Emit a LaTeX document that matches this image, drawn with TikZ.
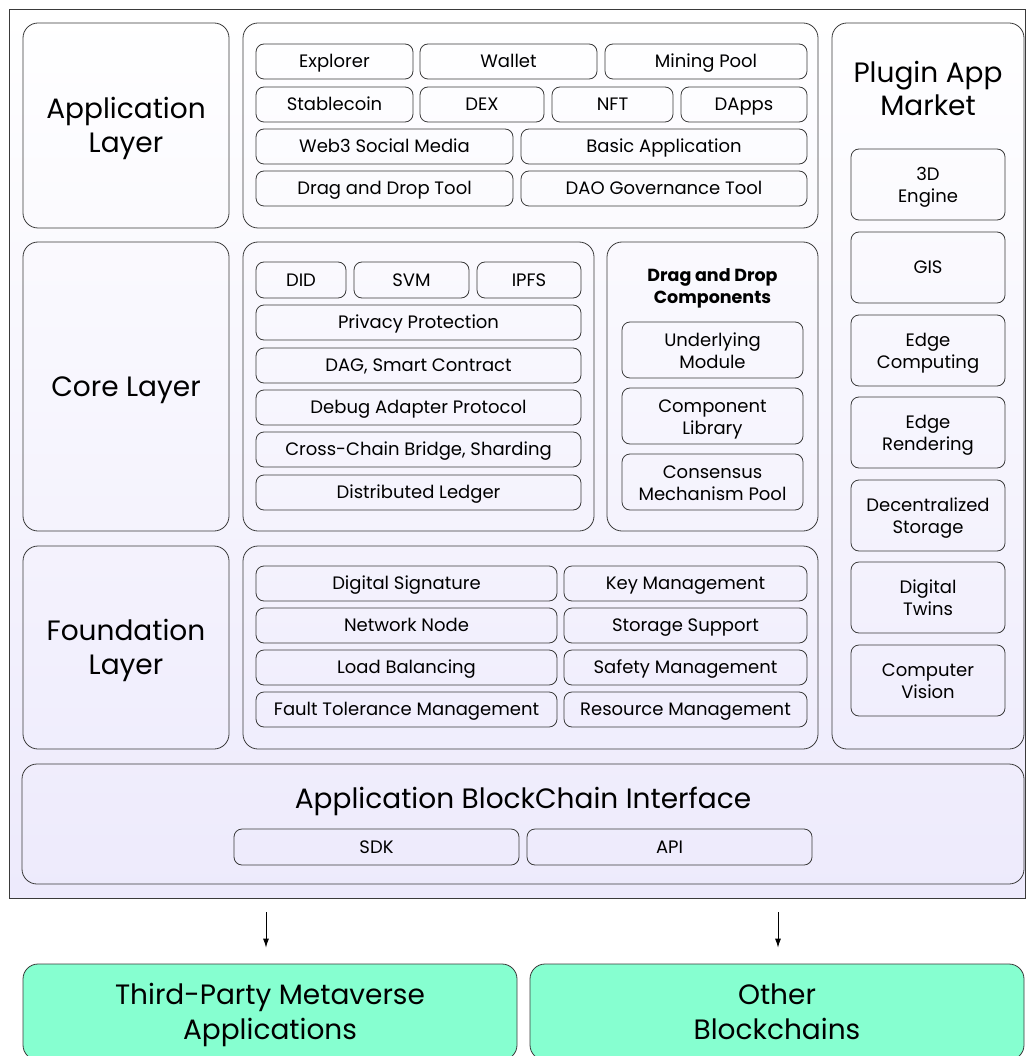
\documentclass[tikz,border=0pt]{standalone}
\usepackage{fontspec}
\setmainfont{Poppins}
\usetikzlibrary{arrows.meta, positioning}
\definecolor{lavender}{RGB}{237,234,252}
\definecolor{edgegray}{RGB}{58,58,58}
\definecolor{mint}{RGB}{134,255,208}

\begin{document}
\begin{tikzpicture} [%
    x = 1pt,
    y = -1pt,
    line width = 0.8pt,
    >= { Latex[length=9pt, width=6pt] },
    oneline/.style = {text height = #1, text depth = 2.4pt},
    oneline/.default = 15pt,
    twoline/.style = {text height = #1, text depth = 2.4pt},
    twoline/.default = 39pt,
    bigtext/.style = {%
      align = center,
      inner sep = 0pt,
      font = \fontsize{28}{34}\selectfont },
    layer/.style = {%
      bigtext,
      draw = edgegray,
      rounded corners = 15pt },
    panel/.style = {%
      draw = edgegray,
      rounded corners = 15pt,
      inner sep = 0pt },
    cell/.style = {%
      draw = edgegray,
      rounded corners = 8pt,
      align = center,
      inner sep = 0pt,
      minimum height = 35pt,
      oneline,
      font = \fontsize{18}{22}\selectfont },
    tile/.style = {cell, twoline, minimum width = 154pt, minimum height = 71pt},
    target/.style = {%
      bigtext,
      twoline = 57pt,
      draw = edgegray,
      fill = mint,
      rounded corners = 15pt,
      minimum width = 494pt,
      minimum height = 96pt,
      font = \fontsize{28}{35}\selectfont }
  ]

  \useasboundingbox (0,0) rectangle (1026,1056);

  % outer frame
  \node[draw=edgegray, top color=white, bottom color=lavender, inner sep=0pt,
        minimum width=1016pt, minimum height=889pt] (frame) at (517,453.5) {};

  % layers on the left
  \node[layer, twoline=56pt, minimum width=206pt, minimum height=205pt] (appL) at (126,125.5) {Application\\Layer};
  \node[layer, oneline=22pt, minimum width=206pt, minimum height=289pt] (coreL) at (126,386.5) {Core Layer};
  \node[layer, twoline=56pt, minimum width=206pt, minimum height=203pt] (foundL) at (126,647.5) {Foundation\\Layer};

  % application layer
  \node[panel, minimum width=575pt, minimum height=205pt] (appP) at (530.5,125.5) {};
  \node[cell, minimum width=157pt] (explorer) at (334.5,61.5) {Explorer};
  \node[cell, minimum width=177pt] (wallet) at (508.5,61.5) {Wallet};
  \node[cell, minimum width=202pt] (pool) at (706,61.5) {Mining Pool};
  \node[cell, minimum width=157pt] (stable) at (334.5,104.5) {Stablecoin};
  \node[cell, minimum width=124pt] (dex) at (482,104.5) {DEX};
  \node[cell, minimum width=121pt] (nft) at (612.5,104.5) {NFT};
  \node[cell, minimum width=126pt] (dapps) at (744,104.5) {DApps};
  \node[cell, minimum width=257pt] (social) at (384.5,146.5) {Web3 Social Media};
  \node[cell, minimum width=286pt] (basic) at (664,146.5) {Basic Application};
  \node[cell, minimum width=257pt] (dndtool) at (384.5,188.5) {Drag and Drop Tool};
  \node[cell, minimum width=286pt] (dao) at (664,188.5) {DAO Governance Tool};

  % core layer
  \node[panel, minimum width=351pt, minimum height=289pt] (coreP) at (418.5,386.5) {};
  \node[cell, minimum width=90pt, minimum height=36pt] (did) at (301,280) {DID};
  \node[cell, minimum width=115pt, minimum height=36pt] (svm) at (411.5,280) {SVM};
  \node[cell, minimum width=104pt, minimum height=36pt] (ipfs) at (529,280) {IPFS};
  \node[cell, minimum width=325pt] (privacy) at (418.5,322.5) {Privacy Protection};
  \node[cell, minimum width=325pt] (dag) at (418.5,365.5) {DAG, Smart Contract};
  \node[cell, minimum width=325pt] (debug) at (418.5,407.5) {Debug Adapter Protocol};
  \node[cell, minimum width=325pt] (bridge) at (418.5,449.5) {Cross-Chain Bridge, Sharding};
  \node[cell, minimum width=325pt] (ledger) at (418.5,492.5) {Distributed Ledger};

  \node[panel, minimum width=211pt, minimum height=289pt] (dndP) at (712.5,386.5) {};
  \node[cell, text height={}, text depth={}, draw=none, font=\fontsize{17.5}{22}\selectfont\bfseries] (dndT) at (712.5,288)
    {Drag and Drop\\Components};
  \node[cell, twoline, minimum width=181pt, minimum height=56pt] (module) at (712.5,350) {Underlying\\Module};
  \node[cell, twoline, minimum width=181pt, minimum height=56pt] (library) at (712.5,416) {Component\\Library};
  \node[cell, twoline, minimum width=181pt, minimum height=56pt] (consensus) at (712.5,482) {Consensus\\Mechanism Pool};

  % foundation layer
  \node[panel, minimum width=575pt, minimum height=203pt] (foundP) at (530.5,647.5) {};
  \node[cell, minimum width=301pt] (signature) at (406.5,583.5) {Digital Signature};
  \node[cell, minimum width=243pt] (keys) at (685.5,583.5) {Key Management};
  \node[cell, minimum width=301pt] (netnode) at (406.5,625.5) {Network Node};
  \node[cell, minimum width=243pt] (storage) at (685.5,625.5) {Storage Support};
  \node[cell, minimum width=301pt] (balance) at (406.5,667.5) {Load Balancing};
  \node[cell, minimum width=243pt] (safety) at (685.5,667.5) {Safety Management};
  \node[cell, minimum width=301pt] (fault) at (406.5,709.5) {Fault Tolerance Management};
  \node[cell, minimum width=243pt] (resource) at (685.5,709.5) {Resource Management};

  % plugin market
  \node[panel, minimum width=192pt, minimum height=726pt] (market) at (928,386) {};
  \node[bigtext, font=\fontsize{28}{33}\selectfont] (marketT) at (928,88) {Plugin App\\Market};
  \node[tile] (engine) at (928,184.5) {3D\\Engine};
  \node[tile, oneline] (gis) at (928,267.5) {GIS};
  \node[tile] (edgecomp) at (928,350.5) {Edge\\Computing};
  \node[tile] (edgerend) at (928,432.5) {Edge\\Rendering};
  \node[tile] (decstore) at (928,515.5) {Decentralized\\Storage};
  \node[tile] (twins) at (928,597.5) {Digital\\Twins};
  \node[tile] (vision) at (928,680.5) {Computer\\Vision};

  % interface
  \node[panel, minimum width=1002pt, minimum height=120pt] (abi) at (523,824) {};
  \node[bigtext, oneline=22pt] (abiT) at (523,799) {Application BlockChain Interface};
  \node[cell, minimum width=285pt, minimum height=36pt] (sdk) at (376.5,847) {SDK};
  \node[cell, minimum width=285pt, minimum height=36pt] (api) at (669.5,847) {API};

  % outside
  \node[target] (thirdparty) at (270,1012) {Third-Party Metaverse\\Applications};
  \node[target] (chains) at (777,1012) {Other\\Blockchains};

  \path[draw=black, line width=0.9pt]
  ([xshift=-4pt]frame.south -| thirdparty.north) edge [->, shorten <=14pt, shorten >=16pt] ([xshift=-4pt]thirdparty.north)
  ([xshift=1pt]frame.south -| chains.north) edge [->, shorten <=14pt, shorten >=16pt] ([xshift=1pt]chains.north);

\end{tikzpicture}
\end{document}
